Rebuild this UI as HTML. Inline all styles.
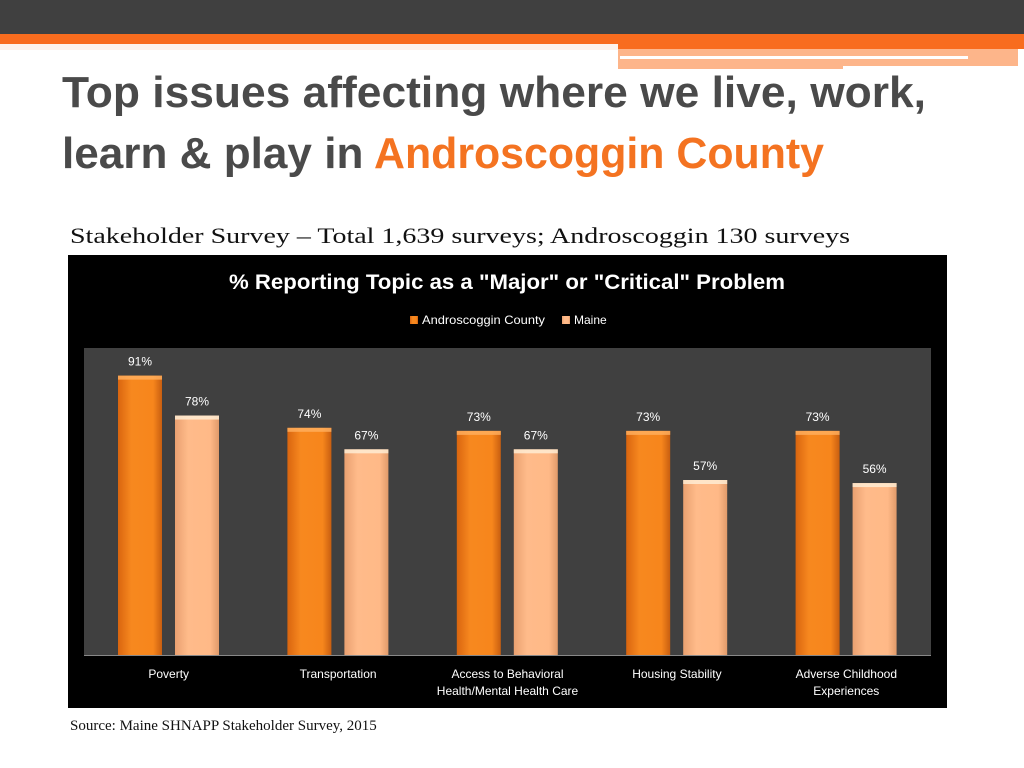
<!DOCTYPE html>
<html><head><meta charset="utf-8"><style>html,body{margin:0;padding:0;background:#fff;}svg{display:block;font-family:"Liberation Sans",sans-serif;}</style></head>
<body>
<svg id="slide" width="1024" height="768" viewBox="0 0 1024 768">
  <defs>
    <linearGradient id="gOr" x1="0" x2="1" y1="0" y2="0"><stop offset="0" stop-color="#d9650f"/><stop offset="0.3" stop-color="#f7881f"/><stop offset="0.8" stop-color="#f7861c"/><stop offset="1" stop-color="#c85e10"/></linearGradient>
    <linearGradient id="gLt" x1="0" x2="1" y1="0" y2="0"><stop offset="0" stop-color="#e9a070"/><stop offset="0.3" stop-color="#ffbb8a"/><stop offset="0.8" stop-color="#ffb987"/><stop offset="1" stop-color="#e09a6a"/></linearGradient>
  </defs>
  <rect x="0" y="0" width="1024" height="34" fill="#404040"/>
  <rect x="0" y="34" width="1024" height="15" fill="#f86c1e"/>
  <rect x="0" y="44" width="618" height="6" fill="#fdf3ec"/>
  <rect x="618" y="49" width="400" height="20" fill="#fdb58a"/>
  <rect x="620" y="56" width="348" height="3" fill="#fff"/>
  <rect x="843" y="66" width="181" height="6" fill="#fff"/>
  <text x="62" y="107" font-size="44" font-weight="bold" fill="#4a4a4a" textLength="864" lengthAdjust="spacingAndGlyphs">Top issues affecting where we live, work,</text>
  <text x="62" y="168" font-size="44" font-weight="bold" fill="#4a4a4a"><tspan textLength="312" lengthAdjust="spacingAndGlyphs">learn &amp; play in </tspan><tspan fill="#f47321" textLength="450" lengthAdjust="spacingAndGlyphs">Androscoggin County</tspan></text>
  <text x="70" y="243" font-size="22" font-family="Liberation Serif, serif" fill="#111" textLength="780" lengthAdjust="spacingAndGlyphs">Stakeholder Survey – Total 1,639 surveys;  Androscoggin 130 surveys</text>
  <rect x="68" y="255" width="879" height="453" fill="#000"/>
  <text x="507" y="289" font-size="21" font-weight="bold" fill="#fff" text-anchor="middle" textLength="556" lengthAdjust="spacingAndGlyphs">% Reporting Topic as a "Major" or "Critical" Problem</text>
  <g>
    <rect x="410" y="316" width="8" height="8" fill="url(#gOr)"/>
    <text x="422" y="324" font-size="12" fill="#fff" textLength="123" lengthAdjust="spacingAndGlyphs">Androscoggin County</text>
    <rect x="562" y="316" width="8" height="8" fill="url(#gLt)"/>
    <text x="574" y="324" font-size="12" fill="#fff">Maine</text>
  </g>
  <rect x="84" y="348" width="847" height="307" fill="#404040"/>
  <line x1="84" y1="655.5" x2="931" y2="655.5" stroke="#888" stroke-width="1"/>
  <g id="bars"></g>
  <text x="70" y="730" font-size="15" font-family="Liberation Serif, serif" fill="#111">Source: Maine SHNAPP Stakeholder Survey, 2015</text>
</svg>
<script>
const categories = [["Poverty"],["Transportation"],["Access to Behavioral","Health/Mental Health Care"],["Housing Stability"],["Adverse Childhood","Experiences"]];
const androscoggin = [91,74,73,73,73];
const maine = [78,67,67,57,56];
const plot = {x:84, y:348, w:847, h:307, max:100};
const NS = "http://www.w3.org/2000/svg";
const g = document.getElementById('bars');
const yS = v => plot.y + plot.h - v/plot.max*plot.h;
const groupW = plot.w/categories.length;
function mk(tag, attrs){const e=document.createElementNS(NS,tag);for(const k in attrs)e.setAttribute(k,attrs[k]);g.appendChild(e);return e;}
categories.forEach((cat,i)=>{
  const gx = plot.x + i*groupW;
  [[androscoggin,'url(#gOr)','#ffb060',34,'androscoggin'],[maine,'url(#gLt)','#fff0d8',91,'maine']].forEach(([arr,fill,cap,off,nm])=>{
    const v = arr[i], x = gx+off, w = 44, y = yS(v);
    const r = mk('rect',{x:x,y:y,width:w,height:plot.y+plot.h-y,fill:fill});
    
    
    const c = mk('rect',{x:x,y:y,width:w,height:4,fill:cap,opacity:0.8});
    
    
    const t = mk('text',{x:x+w/2,y:y-10,'font-size':12,fill:'#fff','text-anchor':'middle'});
    t.textContent = v+'%';
    
    
  });
  cat.forEach((line,j)=>{
    const t = mk('text',{x:gx+groupW/2,y:678+j*17,'font-size':12,fill:'#fff','text-anchor':'middle'});
    t.textContent = line;
    
    
  });
});
</script>
</body></html>
